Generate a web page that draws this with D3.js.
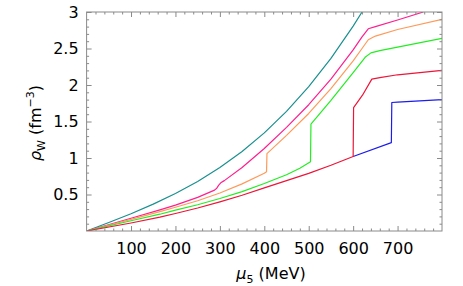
<!DOCTYPE html>
<html>
<head>
<meta charset="utf-8">
<script src="https://cdn.jsdelivr.net/npm/d3@7"></script>
<style>
  html, body { margin: 0; padding: 0; background: #fff; }
  svg { display: block; font-family: 'DejaVu Sans', sans-serif; }
</style>
</head>
<body>
<div id="wrapper"></div>
<script>
// ---------------------------------------------------
// 1. DATA  (mu5 in MeV, rho_W in fm^-3)
// ---------------------------------------------------
const teal = [[0, 0], [50, 0.116], [100, 0.237], [150, 0.368], [200, 0.514], [250, 0.679],
  [300, 0.87], [350, 1.09], [400, 1.344], [450, 1.638], [500, 1.977], [550, 2.364],
  [600, 2.807], [620, 3.0]]
const pink = [[0, 0], [100, 0.175], [165, 0.29], [200, 0.355], [250, 0.46], [288, 0.56],
  [293, 0.585], [297, 0.625], [302, 0.66], [310, 0.69], [350, 0.87], [400, 1.13],
  [450, 1.42], [500, 1.73], [550, 2.08], [600, 2.48], [620, 2.66], [634, 2.77],
  [650, 2.8], [700, 2.89], [758, 3.0]]
const orange = [[0, 0], [100, 0.16], [165, 0.265], [200, 0.325], [250, 0.415], [300, 0.52],
  [350, 0.645], [400, 0.79], [405, 0.81], [406, 1.06], [450, 1.31], [500, 1.61],
  [550, 1.95], [600, 2.33], [620, 2.5], [634, 2.62], [650, 2.67], [700, 2.76], [800, 2.9]]
const green = [[0, 0], [100, 0.14], [165, 0.23], [200, 0.285], [250, 0.36], [300, 0.445],
  [350, 0.54], [400, 0.65], [450, 0.77], [480, 0.86], [504, 0.95], [505, 1.465],
  [550, 1.79], [600, 2.17], [627, 2.38], [640, 2.44], [660, 2.47], [700, 2.52], [800, 2.64]]
const red = [[0, 0], [100, 0.11], [165, 0.19], [200, 0.24], [250, 0.315], [300, 0.4],
  [350, 0.49], [400, 0.59], [450, 0.69], [500, 0.79], [550, 0.9], [600, 1.02],
  [601, 1.69], [621, 1.86], [642, 2.08], [660, 2.1], [700, 2.14], [800, 2.2]]
const blue = [[600, 1.02], [686, 1.21], [687, 1.76], [700, 1.765], [800, 1.8]]

const xTicks = [100, 200, 300, 400, 500, 600, 700]
const yTicks = [0.5, 1, 1.5, 2, 2.5, 3]

const series = [
  { values: teal, color: '#1a9090' },
  { values: pink, color: '#ff1f8e' },
  { values: orange, color: '#ff9a5a' },
  { values: green, color: '#22ee22' },
  { values: blue, color: '#1c1cee' },
  { values: red, color: '#ee1538' },
]

// ---------------------------------------------------
// 2. DIMENSIONS
// ---------------------------------------------------
const dimensions = {
  width: 463,
  height: 286,
  margin: { top: 12, right: 21, bottom: 55, left: 86.6 },
}
dimensions.boundedWidth = dimensions.width - dimensions.margin.left - dimensions.margin.right
dimensions.boundedHeight = dimensions.height - dimensions.margin.top - dimensions.margin.bottom

// ---------------------------------------------------
// 3. CANVAS
// ---------------------------------------------------
const svg = d3.select('#wrapper')
  .append('svg')
  .attr('width', dimensions.width)
  .attr('height', dimensions.height)

const bounds = svg.append('g')
  .attr('transform', `translate(${dimensions.margin.left},${dimensions.margin.top})`)

bounds.append('clipPath')
  .attr('id', 'clip')
  .append('rect')
  .attr('width', dimensions.boundedWidth)
  .attr('height', dimensions.boundedHeight)

// ---------------------------------------------------
// 4. SCALES
// ---------------------------------------------------
const xScale = d3.scaleLinear().domain([0, 800]).range([0, dimensions.boundedWidth])
const yScale = d3.scaleLinear().domain([0, 3]).range([dimensions.boundedHeight, 0])

// ---------------------------------------------------
// 5. LINES
// ---------------------------------------------------
const lineGenerator = d3.line()
  .x(d => xScale(d[0]))
  .y(d => yScale(d[1]))

bounds.append('g')
  .attr('clip-path', 'url(#clip)')
  .selectAll('path')
  .data(series)
  .join('path')
  .attr('d', d => lineGenerator(d.values))
  .attr('fill', 'none')
  .attr('stroke', d => d.color)
  .attr('stroke-width', 1.2)
  .attr('stroke-linejoin', 'round')

// ---------------------------------------------------
// 6. FRAME AND AXES
// ---------------------------------------------------
const frameColor = '#8a8a8a'
const minorX = d3.range(20, 800, 20).filter(v => v % 100 !== 0)
const minorY = d3.range(1, 30).map(v => v / 10).filter(v => Math.round(v * 10) % 5 !== 0)

function styleAxis(g) {
  g.select('.domain').remove()
  g.selectAll('line').attr('stroke', frameColor)
  g.selectAll('text').attr('fill', '#000').attr('font-size', 16).attr('font-family', "'DejaVu Sans', sans-serif")
}

// bottom
bounds.append('g')
  .attr('transform', `translate(0,${dimensions.boundedHeight})`)
  .call(d3.axisBottom(xScale).tickValues(xTicks).tickSize(-5).tickPadding(12).tickFormat(d3.format('d')))
  .call(styleAxis)
bounds.append('g')
  .attr('transform', `translate(0,${dimensions.boundedHeight})`)
  .call(d3.axisBottom(xScale).tickValues(minorX).tickSize(-2.5).tickFormat(''))
  .call(styleAxis)
// top
bounds.append('g')
  .call(d3.axisTop(xScale).tickValues(xTicks).tickSize(-5).tickFormat(''))
  .call(styleAxis)
bounds.append('g')
  .call(d3.axisTop(xScale).tickValues(minorX).tickSize(-2.5).tickFormat(''))
  .call(styleAxis)
// left
bounds.append('g')
  .call(d3.axisLeft(yScale).tickValues(yTicks).tickSize(-5).tickPadding(8).tickFormat(d3.format('')))
  .call(styleAxis)
bounds.append('g')
  .call(d3.axisLeft(yScale).tickValues(minorY).tickSize(-2.5).tickFormat(''))
  .call(styleAxis)
// right
bounds.append('g')
  .attr('transform', `translate(${dimensions.boundedWidth},0)`)
  .call(d3.axisRight(yScale).tickValues(yTicks).tickSize(-5).tickFormat(''))
  .call(styleAxis)
bounds.append('g')
  .attr('transform', `translate(${dimensions.boundedWidth},0)`)
  .call(d3.axisRight(yScale).tickValues(minorY).tickSize(-2.5).tickFormat(''))
  .call(styleAxis)

bounds.append('rect')
  .attr('width', dimensions.boundedWidth)
  .attr('height', dimensions.boundedHeight)
  .attr('fill', 'none')
  .attr('stroke', frameColor)
  .attr('stroke-width', 1)

// ---------------------------------------------------
// 7. LABELS
// ---------------------------------------------------
const xLabel = svg.append('text')
  .attr('x', 271)
  .attr('y', 279)
  .attr('text-anchor', 'middle')
  .attr('font-size', 16)
xLabel.append('tspan').attr('font-style', 'italic').text('μ')
xLabel.append('tspan').attr('font-size', 11).attr('dy', 4).text('5')
xLabel.append('tspan').attr('dy', -4).text(' (MeV)')

const yLabel = svg.append('text')
  .attr('transform', 'translate(41,123) rotate(-90)')
  .attr('text-anchor', 'middle')
  .attr('font-size', 16)
yLabel.append('tspan').attr('font-style', 'italic').text('ρ')
yLabel.append('tspan').attr('font-size', 11).attr('dy', 4).text('W')
yLabel.append('tspan').attr('dy', -4).text(' (fm')
yLabel.append('tspan').attr('font-size', 11).attr('dy', -7).text('−3')
yLabel.append('tspan').attr('dy', 7).text(')')
</script>
</body>
</html>
